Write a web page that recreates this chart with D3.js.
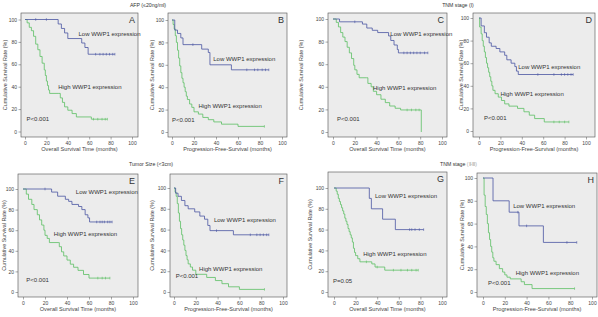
<!DOCTYPE html>
<html>
<head>
<meta charset="utf-8">
<script src="https://cdn.jsdelivr.net/npm/d3@7"></script>
<style>
    body { margin: 0; background: #fff; }
    svg { display: block; font-family: "Liberation Sans", Arial, sans-serif; }
</style>
</head>
<body>
<svg id="chart" width="598" height="317"></svg>
<script>
// Kaplan-Meier steps: [month, survival % after the event]
const lowA = [[0,100],[31,96],[34,92],[37,88],[40,83],[53,79],[56,75],[59,69],[84,69]];
const highA = [[0,100],[2,97],[4,93],[6,90],[8,85],[10,78],[12,73],[14,67],[16,61],[18,55],[19,50],[20,45],[21,41],[22,37],[23,34],[31,34],[33,30],[35,26],[37,22],[40,19],[44,16],[48,13],[61,13],[62,11],[77,11]];
const lowB = [[0,100],[2.5,91],[5,88],[8,84],[10,78],[27,74],[33,71],[34.5,60],[54,55.5],[88,55.5]];
const highB = [[0,100],[1,96],[2,92],[3,86],[4,80],[5,73],[6,66],[7,59],[8,53],[9,48],[10,44],[11,40],[12,36],[13,32],[14,29],[16,25],[18,22],[20,18],[24,16],[28,13],[33,11],[38,9],[45,7],[60,5],[84,5]];
const lowC = [[0,100],[6,97.5],[27,95.5],[31,92],[36,90],[41,88],[51,85],[53,81],[56,77],[59,73],[60,70],[87,70]];
const highC = [[0,100],[3,97],[5,93],[7,88],[9,84],[11,80],[13,75],[15,70],[17,65],[19,59],[20,55],[22,51],[24,48],[31,48],[32,43],[35,40],[37,36],[40,33],[44,29],[48,26],[52,23],[57,21],[62,19.5],[81,19.5],[81,0]];
const lowD = [[0,100],[2,93],[5,87],[7,83],[9.5,78],[11.5,75],[16,73],[19.5,70],[24,67],[26,63],[30,60],[33.5,57],[35,53],[36.7,50],[88,50]];
const highD = [[0,100],[0.6,92],[2,86],[3,80],[4,75],[5,70],[6,65],[7,60],[8,56],[9,52],[10,48],[11,44],[12,40],[13,36],[15,33],[18,30],[21,27],[24,24],[28,22],[36,20],[42,17],[47,14],[52,11],[61,8],[84,8]];
const lowE = [[0,100],[26,97],[31.5,93],[38.5,90],[41.5,88],[44.5,85],[50.5,83],[53.5,80],[56.5,75],[59,72],[60.5,68],[81,68]];
const highE = [[0,100],[3,95],[5,90],[8,85],[10,80],[13,75],[15,70],[17,65],[19,60],[20,55],[22,52],[24,48],[32,48],[33,44],[35,39],[37,35],[40,31],[43,27],[46,24],[50,21],[55,17],[60,13.5],[79,13.5]];
const lowF = [[0,100],[1.5,95],[3.7,92],[6.8,88],[10,83],[13,80],[19,77],[23.7,73],[28,70],[31,64],[33,59],[54.5,55],[87,55]];
const highF = [[0,100],[1,96],[2,92],[3,85],[4,76],[5,68],[6,61],[7,55],[8,50],[9,45],[10,40],[11,35],[12,31],[13,27],[15,24],[17,21],[20,17],[30,14],[38,11],[44,8],[50,5],[60,2.5],[83,2.5]];
const lowG = [[0,100],[32.7,90],[34.6,80],[45,70],[56.8,60],[83,60]];
const highG = [[0,100],[2,97],[3,94],[4,90],[5,87],[6,84],[7,81],[8,78],[9,75],[10,71],[11,68],[12,65],[13,61],[14,58],[15,55],[16,52],[17,48],[18,42],[19,38],[20,35],[22,32],[24,29],[35,27],[38,24],[47,21],[78,21]];
const lowH = [[0,100],[9.2,80],[24,70],[33,58],[55.4,43.5],[86,43.5]];
const highH = [[0,100],[1,85],[2,75],[3,68],[4,60],[5,52],[6,46],[7,40],[8,35],[9,30],[10,27],[12,24],[15,20.5],[18,17.5],[20,15],[22,13],[25,11.5],[35,9],[38,6.5],[45,3],[84,3]];

// censored times (months)
const censLowA = [10, 20, 66, 70, 73, 76, 79, 82, 84];
const censHighA = [64, 68, 72, 75, 77];
const censLowB = [19, 68, 75, 78, 82, 85, 88];
const censHighB = [84];
const censLowC = [20, 65, 68, 71, 74, 77, 80, 84, 87];
const censHighC = [68, 72, 76, 79];
const censLowD = [55, 70, 77, 80, 83, 86, 88];
const censHighD = [70, 75, 80, 84];
const censLowE = [20, 67, 70, 72, 74, 77, 79, 81];
const censHighE = [68, 72, 75, 79];
const censLowF = [39, 70, 76, 79, 82, 85, 87];
const censHighF = [83];
const censLowG = [70, 72, 75, 79, 83];
const censHighG = [30, 40, 55, 62, 68, 72, 76, 78];
const censLowH = [32, 40, 77, 86];
const censHighH = [84];

const tickValues = [0, 20, 40, 60, 80, 100];
const pValues = ["P<0.001", "P<0.001", "P<0.001", "P<0.001", "P<0.001", "P<0.001", "P=0.05", "P<0.001"];
const osTitle = "Overall  Survival  Time (months)";
const pfsTitle = "Progression-Free-Survival (months)";

const BLUE = "#4a55a2";
const GREEN = "#5cbf63";

// layout of each panel: box [left, right, top, bottom], pixel of 0 and 100 on each axis
const panels = [
    { id: "A", low: lowA, high: highA, cl: censLowA, ch: censHighA, box: [21, 138, 13, 137], x: [25, 132], y: [131.5, 19.5], yt: 6, title: osTitle, lowAt: [50, 87], highAt: [31, 39], pAt: [1.5, 11] },
    { id: "B", low: lowB, high: highB, cl: censLowB, ch: censHighB, box: [168, 287, 13, 137], x: [172, 282], y: [132, 20], yt: 153, title: pfsTitle, lowAt: [37.5, 65], highAt: [24, 23], pAt: [0, 10] },
    { id: "C", low: lowC, high: highC, cl: censLowC, ch: censHighC, box: [328, 447, 13, 137], x: [333, 442], y: [132, 19], yt: 302, title: osTitle, lowAt: [52.6, 86], highAt: [36.7, 39], pAt: [3.7, 11] },
    { id: "D", low: lowD, high: highD, cl: censLowD, ch: censHighD, box: [473, 595, 13, 137], x: [479, 586], y: [131, 18], yt: 462, title: pfsTitle, lowAt: [36.7, 56], highAt: [20, 32], pAt: [4.7, 11] },
    { id: "E", low: lowE, high: highE, cl: censLowE, ch: censHighE, box: [18, 138, 174, 297], x: [23, 133], y: [292, 189], yt: 5, title: osTitle, lowAt: [48, 97], highAt: [28, 56], pAt: [3, 11] },
    { id: "F", low: lowF, high: highF, cl: censLowF, ch: censHighF, box: [170, 287, 174, 297], x: [174, 283], y: [292, 188], yt: 153, title: pfsTitle, lowAt: [36.6, 69], highAt: [23, 22], pAt: [1.5, 15] },
    { id: "G", low: lowG, high: highG, cl: censLowG, ch: censHighG, box: [328, 447, 172, 297], x: [334, 442], y: [292, 188], yt: 311, title: osTitle, lowAt: [38, 92], highAt: [27, 36], pAt: [-1, 10] },
    { id: "H", low: lowH, high: highH, cl: censLowH, ch: censHighH, box: [477, 597, 173, 297], x: [483, 592], y: [292, 178], yt: 463, title: pfsTitle, lowAt: [27.7, 75], highAt: [30, 16], pAt: [4.6, 7.5] }
];

const headers = [
    { text: "AFP  (≤20ng/ml)", x: 148, y: 6 },
    { text: "TNM stage (I)", x: 458, y: 6 },
    { text: "Tumor Size (<3cm)", x: 151, y: 165 }
];

const svg = d3.select("#chart");

const survivalAt = (curve, t) => {
    let v = curve[0][1];
    curve.forEach(([m, s]) => { if (m <= t) v = s; });
    return v;
};

const drawPanel = (p, i) => {
    const [left, right, top, bottom] = p.box;
    const x = d3.scaleLinear().domain([0, 100]).range(p.x);
    const y = d3.scaleLinear().domain([0, 100]).range(p.y);
    const g = svg.append("g").attr("class", "panel");

    g.append("rect")
        .attr("x", left).attr("y", top)
        .attr("width", right - left).attr("height", bottom - top)
        .attr("fill", "#ececec").attr("stroke", "#4d4d4d").attr("stroke-width", 0.6);

    const yAxis = g.append("g")
        .attr("transform", `translate(${left},0)`)
        .call(d3.axisLeft(y).tickValues(tickValues).tickSize(2.5).tickPadding(1.5));
    const xAxis = g.append("g")
        .attr("transform", `translate(0,${bottom})`)
        .call(d3.axisBottom(x).tickValues(tickValues).tickSize(2.5).tickPadding(1.5));
    [yAxis, xAxis].forEach((a) => {
        a.select(".domain").remove();
        a.attr("font-size", 5).attr("font-family", null);
        a.selectAll("line").attr("stroke", "#555").attr("stroke-width", 0.5);
        a.selectAll("text").attr("fill", "#444");
    });

    g.append("text")
        .attr("transform", `translate(${p.yt},${(top + bottom) / 2}) rotate(-90)`)
        .attr("text-anchor", "middle").attr("dominant-baseline", "middle")
        .attr("font-size", 5.4).attr("fill", "#444")
        .text("Cumulative Survival Rate (%)");
    g.append("text")
        .attr("x", (left + right) / 2).attr("y", bottom + 14)
        .attr("text-anchor", "middle")
        .attr("font-size", 5.6).attr("fill", "#444")
        .text(p.title);

    const line = d3.line().x((d) => x(d[0])).y((d) => y(d[1])).curve(d3.curveStepAfter);
    [[p.high, p.ch, GREEN], [p.low, p.cl, BLUE]].forEach(([curve, cens, color]) => {
        g.append("path").datum(curve)
            .attr("fill", "none").attr("stroke", color).attr("stroke-width", 0.8)
            .attr("d", line);
        g.selectAll(null).data(cens).join("line")
            .attr("x1", (d) => x(d)).attr("x2", (d) => x(d))
            .attr("y1", (d) => y(survivalAt(curve, d)) - 1.3)
            .attr("y2", (d) => y(survivalAt(curve, d)) + 1.3)
            .attr("stroke", color).attr("stroke-width", 0.6);
    });

    const label = (txt, at, size) => g.append("text")
        .attr("x", x(at[0])).attr("y", y(at[1]))
        .attr("dominant-baseline", "middle")
        .attr("font-size", size).attr("fill", "#333")
        .text(txt);
    label("Low WWP1 expression", p.lowAt, 6);
    label("High WWP1 expression", p.highAt, 6);
    label(pValues[i], p.pAt, 6);

    g.append("text")
        .attr("x", right - 3).attr("y", top + 10)
        .attr("text-anchor", "end")
        .attr("font-size", 9).attr("fill", "#333")
        .text(p.id);
};

panels.forEach(drawPanel);

headers.forEach((h) => {
    svg.append("text")
        .attr("x", h.x).attr("y", h.y)
        .attr("text-anchor", "middle").attr("dominant-baseline", "middle")
        .attr("font-size", 5.2).attr("fill", "#333")
        .text(h.text);
});
const tnm = svg.append("text")
    .attr("x", 440).attr("y", 165)
    .attr("dominant-baseline", "middle")
    .attr("font-size", 5.2).attr("fill", "#333");
tnm.append("tspan").text("TNM stage  ");
tnm.append("tspan").attr("fill", "#aaa").text("(Ⅱ-Ⅲ)");
</script>
</body>
</html>
